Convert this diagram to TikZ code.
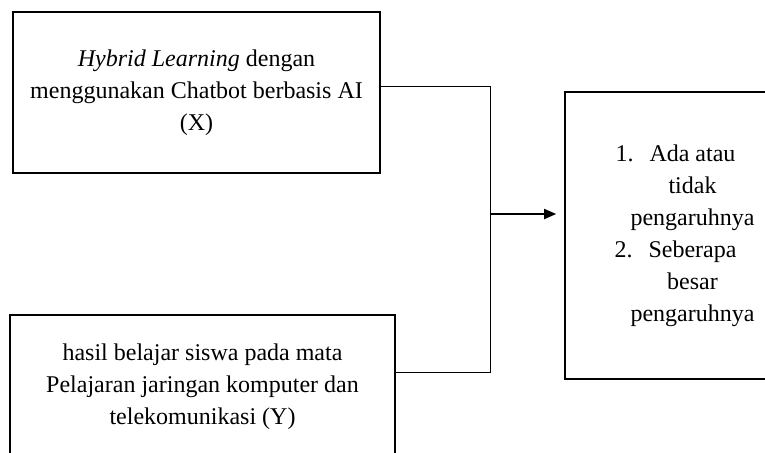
\documentclass[tikz,border=0pt]{standalone}
\usepackage{fontspec}
\setmainfont{Liberation Serif}
\usetikzlibrary{arrows.meta}

\begin{document}
\begin{tikzpicture}[x=0.5pt, y=-0.5pt, >={Triangle[length=6pt,width=5pt]},
  box/.style={draw, line width=0.8pt, align=center, inner sep=0pt,
    font=\fontsize{12}{16}\selectfont},
  link/.style={line width=0.5pt},
  arrow/.style={->, line width=0.9pt, shorten >=4pt}]
\clip (0,0) rectangle (765,452);

% variable boxes
\node [box, minimum width=183.5pt, minimum height=80.5pt] (boxX) at (196.5,92.5)
  {\textit{Hybrid Learning} dengan\\ menggunakan Chatbot berbasis AI\\ (X)};
\node [box, minimum width=192.5pt, minimum height=71.5pt] (boxY) at (202.5,386.5)
  {hasil belajar siswa pada mata\\ Pelajaran jaringan komputer dan\\ telekomunikasi (Y)};

% result box
\node [box, minimum width=127.5pt, minimum height=143.5pt] (result) at (692.5,235.5)
  {\llap{1.\hspace{8pt}}Ada atau\\ tidak\\ pengaruhnya\\
   \llap{2.\hspace{8pt}}Seberapa\\ besar\\ pengaruhnya};

\coordinate (join) at (490,214);

\draw [link] ([yshift=3.25pt]boxX.east) -| (join);
\draw [link] ([yshift=7.25pt]boxY.east) -| (join);
\draw [arrow] (join) -- (join -| result.west);
\end{tikzpicture}
\end{document}
